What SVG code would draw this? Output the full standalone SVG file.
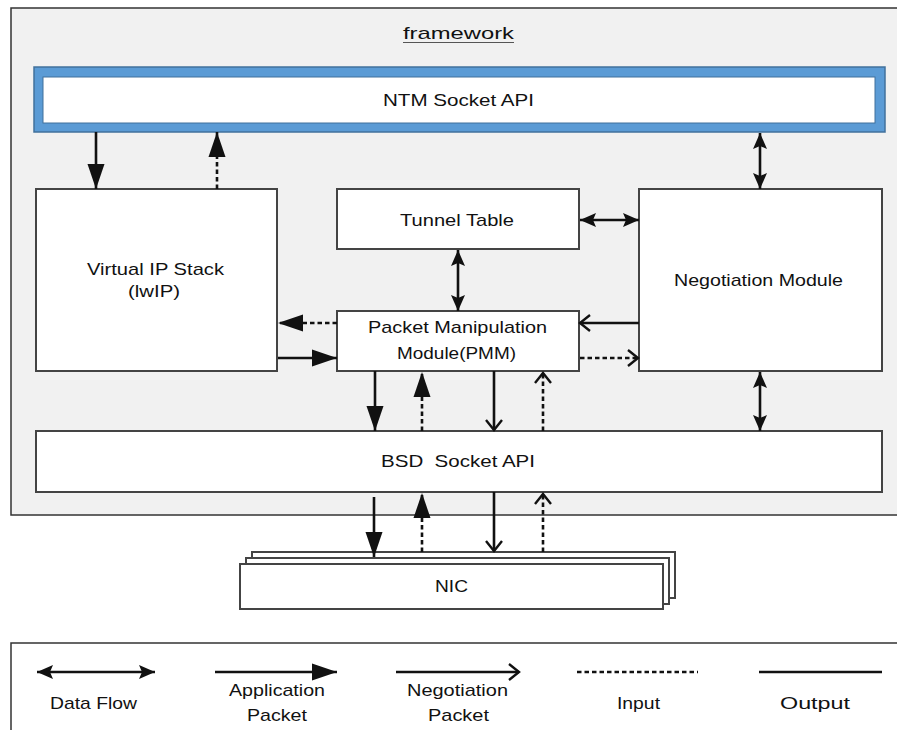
<svg xmlns="http://www.w3.org/2000/svg" width="897" height="730" viewBox="0 0 897 730">
<style>
text{font-family:"Liberation Sans","DejaVu Sans",sans-serif;font-size:17px;fill:#111;}
.box{fill:#fff;stroke:#444;stroke-width:2;}
.ln{stroke:#111;stroke-width:2.6;fill:none;}
.dash{stroke-dasharray:4.5 3;}
</style>
<defs>
<marker id="app" markerUnits="userSpaceOnUse" markerWidth="26" markerHeight="18" refX="25" refY="8.5" orient="auto-start-reverse" overflow="visible"><path d="M0,0 L25,8.5 L0,17 z" fill="#111"/></marker>
<marker id="df" markerUnits="userSpaceOnUse" markerWidth="18" markerHeight="16" refX="16" refY="7" orient="auto-start-reverse" overflow="visible"><path d="M0,0 L16,7 L0,14 L3,7 z" fill="#111"/></marker>
<marker id="neg" markerUnits="userSpaceOnUse" markerWidth="14" markerHeight="18" refX="10" refY="8" orient="auto-start-reverse" overflow="visible"><path d="M0,0 L10,8 L0,16" fill="none" stroke="#111" stroke-width="2.4"/></marker>
</defs>

<g id="framework">
<rect x="11" y="8" width="900" height="507" fill="#f1f1f1" stroke="#333" stroke-width="1.5"/>
<text x="403" y="39" textLength="111" lengthAdjust="spacingAndGlyphs">framework</text>
<line x1="403" y1="42.5" x2="514" y2="42.5" stroke="#555" stroke-width="1.2"/>
</g>

<g id="ntm">
<rect x="34" y="67" width="851" height="65" fill="#5b9bd5" stroke="#41719c" stroke-width="1.5"/>
<rect x="43" y="77" width="832" height="46" fill="#fff" stroke="#41719c" stroke-width="1"/>
<text x="383" y="106" textLength="151" lengthAdjust="spacingAndGlyphs">NTM Socket API</text>
</g>

<g id="vip">
<rect class="box" x="36" y="189" width="241" height="182"/>
<text x="87" y="275" textLength="137" lengthAdjust="spacingAndGlyphs">Virtual IP Stack</text>
<text x="128" y="297" textLength="52" lengthAdjust="spacingAndGlyphs">(lwIP)</text>
</g>

<g id="tunnel">
<rect class="box" x="337" y="189" width="242" height="60"/>
<text x="400" y="226" textLength="114" lengthAdjust="spacingAndGlyphs">Tunnel Table</text>
</g>

<g id="negotiation">
<rect class="box" x="639" y="189" width="243" height="182"/>
<text x="674" y="286" textLength="169" lengthAdjust="spacingAndGlyphs">Negotiation Module</text>
</g>

<g id="pmm">
<rect class="box" x="337" y="311" width="242" height="60"/>
<text x="368" y="333" textLength="179" lengthAdjust="spacingAndGlyphs">Packet Manipulation</text>
<text x="397" y="359" textLength="119" lengthAdjust="spacingAndGlyphs">Module(PMM)</text>
</g>

<g id="bsd">
<rect class="box" x="36" y="431" width="846" height="61"/>
<text x="381" y="467" textLength="154" lengthAdjust="spacingAndGlyphs" xml:space="preserve">BSD  Socket API</text>
</g>

<g id="nic">
<rect class="box" x="252" y="552" width="423" height="46"/>
<rect class="box" x="246" y="558" width="423" height="46"/>
<rect class="box" x="240" y="564" width="423" height="45"/>
<text x="435" y="592" textLength="33" lengthAdjust="spacingAndGlyphs">NIC</text>
</g>

<g id="connectors">
<line class="ln" x1="96" y1="132" x2="96" y2="189" marker-end="url(#app)"/>
<line class="ln dash" x1="217" y1="189" x2="217" y2="132" marker-end="url(#app)"/>
<line class="ln" x1="760" y1="133" x2="760" y2="189" marker-start="url(#df)" marker-end="url(#df)"/>
<line class="ln" x1="580" y1="220" x2="639" y2="220" marker-start="url(#df)" marker-end="url(#df)"/>
<line class="ln" x1="458" y1="250" x2="458" y2="311" marker-start="url(#df)" marker-end="url(#df)"/>
<line class="ln dash" x1="337" y1="323" x2="278" y2="323" marker-end="url(#app)"/>
<line class="ln" x1="278" y1="358" x2="337" y2="358" marker-end="url(#app)"/>
<line class="ln" x1="639" y1="323" x2="580" y2="323" marker-end="url(#neg)"/>
<line class="ln dash" x1="580" y1="358" x2="638" y2="358" marker-end="url(#neg)"/>
<line class="ln" x1="375" y1="371" x2="375" y2="431" marker-end="url(#app)"/>
<line class="ln dash" x1="422" y1="431" x2="422" y2="372" marker-end="url(#app)"/>
<line class="ln" x1="494" y1="371" x2="494" y2="430" marker-end="url(#neg)"/>
<line class="ln dash" x1="543" y1="431" x2="543" y2="373" marker-end="url(#neg)"/>
<line class="ln" x1="760" y1="372" x2="760" y2="431" marker-start="url(#df)" marker-end="url(#df)"/>
<line class="ln" x1="374" y1="497" x2="374" y2="557" marker-end="url(#app)"/>
<line class="ln dash" x1="422" y1="552" x2="422" y2="493" marker-end="url(#app)"/>
<line class="ln" x1="494" y1="492" x2="494" y2="551" marker-end="url(#neg)"/>
<line class="ln dash" x1="543" y1="552" x2="543" y2="494" marker-end="url(#neg)"/>
</g>

<g id="legend">
<rect x="11" y="643" width="900" height="100" fill="#fff" stroke="#333" stroke-width="1.5"/>
<line class="ln" x1="37" y1="672" x2="155" y2="672" marker-start="url(#df)" marker-end="url(#df)"/>
<text x="50" y="709" textLength="87" lengthAdjust="spacingAndGlyphs">Data Flow</text>
<line class="ln" x1="215" y1="672" x2="337" y2="672" marker-end="url(#app)"/>
<text x="229" y="696" textLength="96" lengthAdjust="spacingAndGlyphs">Application</text>
<text x="247" y="721" textLength="60" lengthAdjust="spacingAndGlyphs">Packet</text>
<line class="ln" x1="396" y1="672" x2="519" y2="672" marker-end="url(#neg)"/>
<text x="407" y="696" textLength="101" lengthAdjust="spacingAndGlyphs">Negotiation</text>
<text x="428" y="721" textLength="61" lengthAdjust="spacingAndGlyphs">Packet</text>
<line class="ln dash" x1="577" y1="672" x2="698" y2="672" stroke-width="2.2"/>
<text x="617" y="709" textLength="43" lengthAdjust="spacingAndGlyphs">Input</text>
<line class="ln" x1="759" y1="672" x2="882" y2="672"/>
<text x="780" y="709" textLength="70" lengthAdjust="spacingAndGlyphs">Output</text>
</g>
</svg>
